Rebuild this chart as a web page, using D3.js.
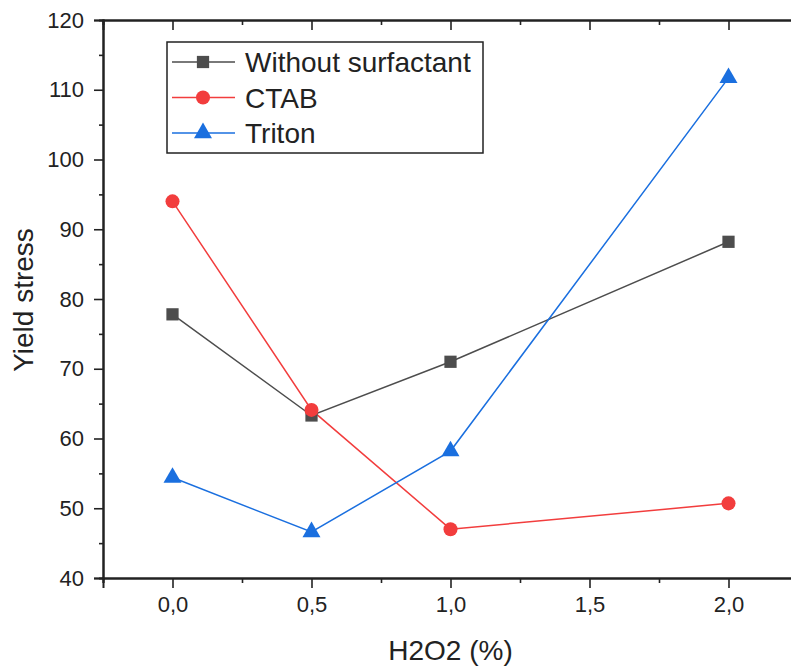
<!DOCTYPE html>
<html><head><meta charset="utf-8">
<script src="https://cdn.jsdelivr.net/npm/d3@7/dist/d3.min.js"></script>
<style>body{margin:0;background:#fff}svg{display:block}text{font-family:"Liberation Sans",Arial,sans-serif;fill:#222}</style>
</head><body><svg id="c" width="791" height="670"></svg>
<script>
const xValues = [0.0, 0.5, 1.0, 2.0];
const withoutSurfactant = [77.8, 63.3, 71.0, 88.2];
const ctab = [94.0, 64.1, 47.0, 50.7];
const triton = [54.4, 46.6, 58.2, 111.7];
const seriesNames = ["Without surfactant", "CTAB", "Triton"];
const xTicks = [0, 0.5, 1.0, 1.5, 2.0];
const yTicks = [40, 50, 60, 70, 80, 90, 100, 110, 120];

const svg = d3.select("#c");
const L = 103, R = 798, T = 20, B = 578;
const x = d3.scaleLinear().domain([-0.25, 2.25]).range([L, R]);
const y = d3.scaleLinear().domain([40, 120]).range([B, T]);
const fmt = d => d3.format(".1f")(d).replace(".", ",");

// axes
const ax = svg.append("g").attr("class", "axes");
const gBottom = ax.append("g").attr("transform", `translate(0,${B})`)
  .call(d3.axisBottom(x).tickValues(xTicks).tickSize(10).tickPadding(8).tickFormat(fmt));
gBottom.append("g").call(d3.axisBottom(x).tickValues([-0.25,0.25,0.75,1.25,1.75,2.25]).tickSize(5).tickFormat(""));
const gTop = ax.append("g").attr("transform", `translate(0,${T})`)
  .call(d3.axisTop(x).tickValues(xTicks).tickSize(-10).tickFormat(""));
gTop.append("g").call(d3.axisTop(x).tickValues([0.25,0.75,1.25,1.75]).tickSize(-5).tickFormat(""));
const gLeft = ax.append("g").attr("transform", `translate(${L},0)`)
  .call(d3.axisLeft(y).tickValues(yTicks).tickSize(9).tickPadding(10));
gLeft.append("g").call(d3.axisLeft(y).tickValues([45,55,65,75,85,95,105,115]).tickSize(4).tickFormat(""));
ax.selectAll(".domain").attr("stroke", "#222").attr("stroke-width", 2);
ax.selectAll(".tick line").attr("stroke", "#222").attr("stroke-width", 1.6);
ax.selectAll(".tick text").style("font-size", "22px").attr("fill", "#333");
ax.append("line").attr("x1", R).attr("x2", R).attr("y1", T).attr("y2", B).attr("stroke", "#222").attr("stroke-width", 2);

// titles
svg.append("text").attr("x", (x(0) + x(2)) / 2).attr("y", 660).attr("text-anchor", "middle")
  .style("font-size", "28px").text("H2O2 (%)");
svg.append("text").attr("transform", `translate(33,300) rotate(-90)`).attr("text-anchor", "middle")
  .style("font-size", "28px").text("Yield stress");

const colors = ["#4d4d4d", "#f23d3d", "#1a6fdf"];
const data = [withoutSurfactant, ctab, triton];
const symbols = [d3.symbolSquare, d3.symbolCircle, d3.symbolTriangle];
const sizes = [150, 155, 140];
const line = d3.line().x((d, i) => x(xValues[i])).y(d => y(d));

data.forEach((vals, k) => {
  svg.append("path").datum(vals).attr("d", line).attr("fill", "none")
    .attr("stroke", colors[k]).attr("stroke-width", 1.5);
});
data.forEach((vals, k) => {
  svg.selectAll(null).data(vals).enter().append("path")
    .attr("d", d3.symbol().type(symbols[k]).size(sizes[k]))
    .attr("transform", (d, i) => `translate(${x(xValues[i])},${y(d)})`)
    .attr("fill", colors[k]);
});

// legend
const lg = svg.append("g");
lg.append("rect").attr("x", 167).attr("y", 42).attr("width", 316).attr("height", 111)
  .attr("fill", "#fff").attr("stroke", "#222").attr("stroke-width", 1.5);
seriesNames.forEach((n, k) => {
  const cy = 62 + k * 35.5;
  lg.append("line").attr("x1", 172).attr("x2", 235).attr("y1", cy).attr("y2", cy)
    .attr("stroke", colors[k]).attr("stroke-width", 1.5);
  lg.append("path").attr("d", d3.symbol().type(symbols[k]).size(sizes[k]))
    .attr("transform", `translate(203,${cy})`).attr("fill", colors[k]);
  lg.append("text").attr("x", 245).attr("y", cy + 10).style("font-size", "28px").attr("fill", "#111").text(n);
});
</script></body></html>
